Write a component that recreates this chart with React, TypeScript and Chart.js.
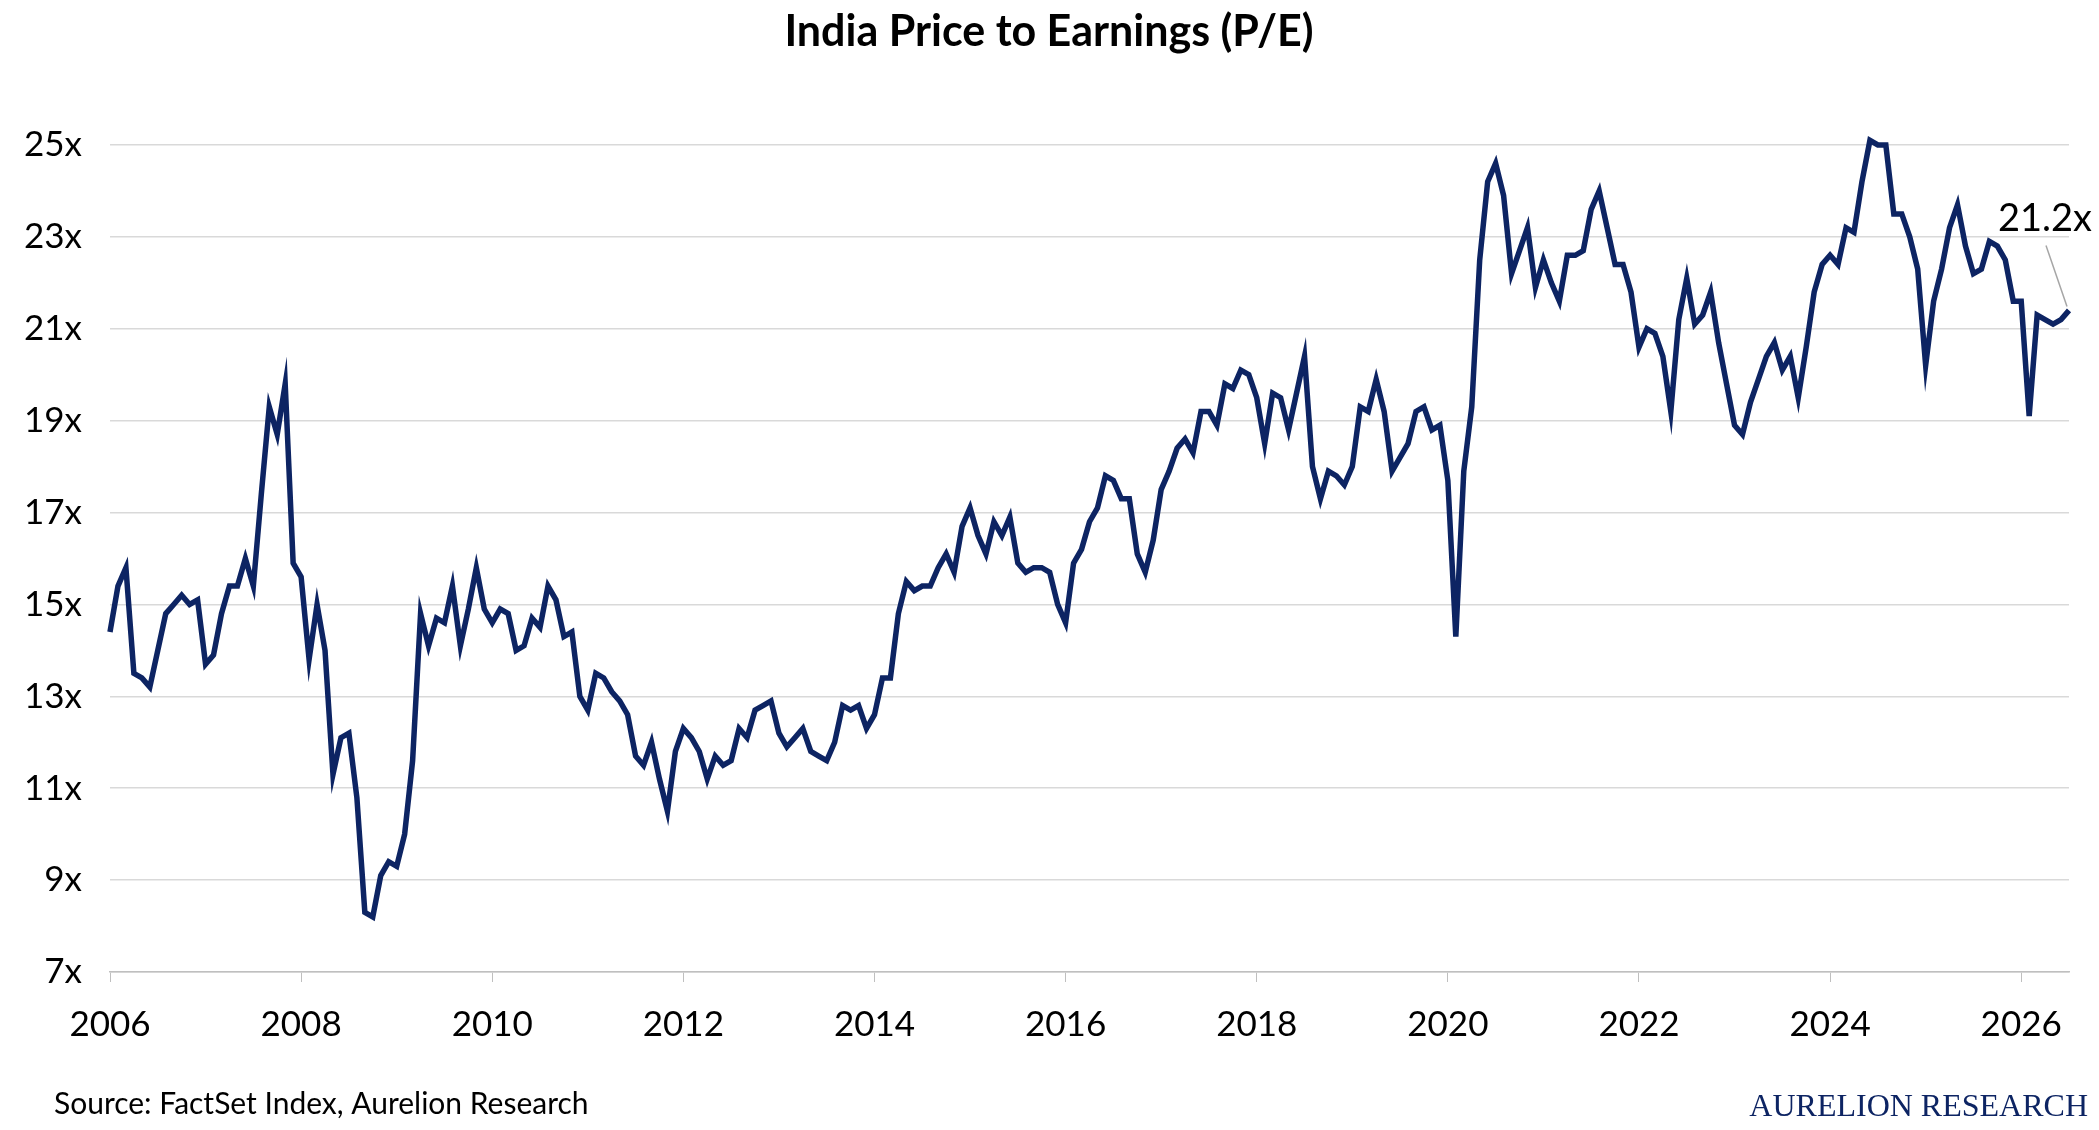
import React, { useEffect, useRef } from "react";
import { Chart, registerables } from "chart.js";
Chart.register(...registerables);

const startYear = 2006;
const yearlyValues: number[][] = [
  [14.4, 15.4, 15.8, 13.5, 13.4, 13.2, 14.0, 14.8, 15.0, 15.2, 15.0, 15.1],
  [13.7, 13.9, 14.8, 15.4, 15.4, 16.0, 15.4, 17.4, 19.3, 18.7, 19.8, 15.9],
  [15.6, 13.8, 15.0, 14.0, 11.3, 12.1, 12.2, 10.8, 8.3, 8.2, 9.1, 9.4],
  [9.3, 10.0, 11.6, 14.8, 14.1, 14.7, 14.6, 15.4, 14.1, 14.9, 15.8, 14.9],
  [14.6, 14.9, 14.8, 14.0, 14.1, 14.7, 14.5, 15.4, 15.1, 14.3, 14.4, 13.0],
  [12.7, 13.5, 13.4, 13.1, 12.9, 12.6, 11.7, 11.5, 12.0, 11.2, 10.5, 11.8],
  [12.3, 12.1, 11.8, 11.2, 11.7, 11.5, 11.6, 12.3, 12.1, 12.7, 12.8, 12.9],
  [12.2, 11.9, 12.1, 12.3, 11.8, 11.7, 11.6, 12.0, 12.8, 12.7, 12.8, 12.3],
  [12.6, 13.4, 13.4, 14.8, 15.5, 15.3, 15.4, 15.4, 15.8, 16.1, 15.7, 16.7],
  [17.1, 16.5, 16.1, 16.8, 16.5, 16.9, 15.9, 15.7, 15.8, 15.8, 15.7, 15.0],
  [14.6, 15.9, 16.2, 16.8, 17.1, 17.8, 17.7, 17.3, 17.3, 16.1, 15.7, 16.4],
  [17.5, 17.9, 18.4, 18.6, 18.3, 19.2, 19.2, 18.9, 19.8, 19.7, 20.1, 20.0],
  [19.5, 18.5, 19.6, 19.5, 18.8, 19.6, 20.4, 18.0, 17.3, 17.9, 17.8, 17.6],
  [18.0, 19.3, 19.2, 19.9, 19.2, 17.9, 18.2, 18.5, 19.2, 19.3, 18.8, 18.9],
  [17.7, 14.3, 17.9, 19.3, 22.5, 24.2, 24.6, 23.9, 22.2, 22.7, 23.2, 21.9],
  [22.5, 22.0, 21.6, 22.6, 22.6, 22.7, 23.6, 24.0, 23.2, 22.4, 22.4, 21.8],
  [20.6, 21.0, 20.9, 20.4, 19.2, 21.2, 22.1, 21.1, 21.3, 21.8, 20.7, 19.8],
  [18.9, 18.7, 19.4, 19.9, 20.4, 20.7, 20.1, 20.4, 19.5, 20.6, 21.8, 22.4],
  [22.6, 22.4, 23.2, 23.1, 24.2, 25.1, 25.0, 25.0, 23.5, 23.5, 23.0, 22.3],
  [20.2, 21.6, 22.3, 23.2, 23.7, 22.8, 22.2, 22.3, 22.9, 22.8, 22.5, 21.6],
  [21.6, 19.1, 21.3, 21.2, 21.1, 21.2, 21.4],
];
const yTicks = [7, 9, 11, 13, 15, 17, 19, 21, 23, 25];
const lastLabel = "21.2x";
const title = "India Price to Earnings (P/E)";
const source = "Source: FactSet Index, Aurelion Research";
const brand = "AURELION RESEARCH";

const FONT = "Lato, 'Open Sans', sans-serif";
const NAVY = "#0d2463";

export default function App() {
  const ref = useRef<HTMLCanvasElement>(null);
  useEffect(() => {
    document.body.style.margin = "0";
    const pts: { x: number; y: number }[] = [];
    yearlyValues.forEach((arr, yi) =>
      arr.forEach((v, m) => pts.push({ x: startYear + yi + m / 12, y: v }))
    );
    const last = pts[pts.length - 1];
    const overlay = {
      id: "overlay",
      afterDraw(c: any) {
        const ctx = c.ctx;
        ctx.save();
        ctx.fillStyle = "#000";
        ctx.font = `bold 43px ${FONT}`;
        ctx.textAlign = "center";
        ctx.textBaseline = "middle";
        ctx.fillText(title, 1049, 32);
        ctx.font = `30px ${FONT}`;
        ctx.textAlign = "left";
        ctx.fillText(source, 54, 1104);
        ctx.fillStyle = NAVY;
        ctx.font = `32px 'Liberation Serif', serif`;
        ctx.textAlign = "right";
        ctx.fillText(brand, 2088, 1108);
        const px = c.scales.x.getPixelForValue(last.x);
        const py = c.scales.y.getPixelForValue(last.y);
        ctx.strokeStyle = "#a6a6a6";
        ctx.lineWidth = 1.5;
        ctx.beginPath();
        ctx.moveTo(px - 23, py - 65);
        ctx.lineTo(px - 2, py - 4);
        ctx.stroke();
        ctx.fillStyle = "#000";
        ctx.font = `38px ${FONT}`;
        ctx.textAlign = "center";
        ctx.fillText(lastLabel, px - 24, py - 92);
        ctx.restore();
      },
    };
    const chart = new Chart(ref.current!, {
      type: "line",
      data: {
        datasets: [
          {
            data: pts,
            borderColor: NAVY,
            borderWidth: 5.5,
            pointRadius: 0,
            tension: 0,
            clip: false as any,
          },
        ],
      },
      options: {
        animation: false,
        responsive: false,
        layout: { padding: { top: 145, right: 30, bottom: 88, left: 0 } },
        plugins: { legend: { display: false }, tooltip: { enabled: false } },
        scales: {
          x: {
            type: "linear",
            min: 2006,
            max: last.x,
            afterBuildTicks: (s: any) => {
              s.ticks = [];
              for (let y = 2006; y <= 2026; y += 2) s.ticks.push({ value: y });
            },
            afterFit: (s: any) => {
              s.height = 70;
            },
            ticks: { font: { family: FONT, size: 35 }, color: "#000", padding: 22, callback: (v: any) => String(v) },
            grid: { drawOnChartArea: false, drawTicks: true, tickLength: 10, color: "#bfbfbf" },
            border: { color: "#bfbfbf", width: 1.5 },
          },
          y: {
            min: 7,
            max: 25,
            afterBuildTicks: (s: any) => {
              s.ticks = yTicks.map((v) => ({ value: v }));
            },
            afterFit: (s: any) => {
              s.width = 110;
            },
            ticks: { font: { family: FONT, size: 35 }, color: "#000", padding: 28, callback: (v: any) => v + "x" },
            grid: { color: "#d9d9d9", lineWidth: 1.5, drawTicks: false },
            border: { display: false },
          },
        },
      },
      plugins: [overlay],
    });
    return () => chart.destroy();
  }, []);
  return <canvas ref={ref} width={2099} height={1130} style={{ display: "block" }} />;
}
